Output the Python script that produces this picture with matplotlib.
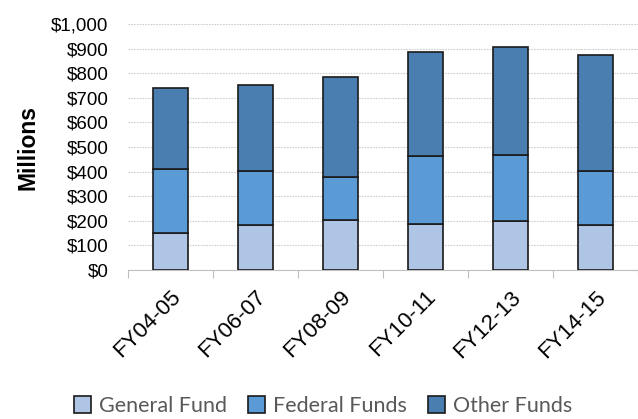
import matplotlib
matplotlib.use("Agg")
import matplotlib.pyplot as plt
import numpy as np

# values in $ millions
years = ["FY04-05", "FY06-07", "FY08-09", "FY10-11", "FY12-13", "FY14-15"]
general = [150, 182, 202, 188, 198, 181]
federal = [262, 222, 178, 276, 270, 223]
other = [326, 348, 405, 424, 440, 468]

colors = ["#aec5e5", "#5a9ad5", "#4a7db0"]
narrow = ["Liberation Sans Narrow", "Liberation Sans", "DejaVu Sans"]

fig = plt.figure(figsize=(6.38, 4.19), dpi=100)
ax = fig.add_axes([128 / 638, 1 - 270 / 419, 510 / 638, 246 / 419])

x = np.arange(len(years))
w = 0.41
bottom = np.zeros(len(years))
labels = ["General Fund", "Federal Funds", "Other Funds"]
for vals, c, lab in zip([general, federal, other], colors, labels):
    ax.bar(x, vals, w, bottom=bottom, color=c, edgecolor="#1a1a1a",
           linewidth=1.2, label=lab, zorder=3)
    bottom += np.array(vals)

ax.set_xlim(-0.5, len(years) - 0.5)
ax.set_ylim(0, 1000)
ax.set_yticks(range(0, 1001, 100))
ax.set_yticklabels(["${:,}".format(v) for v in range(0, 1001, 100)],
                   family=narrow, fontsize=13.5)
ax.yaxis.grid(True, color="#cfcfcf", linestyle=(0, (1.5, 1)), linewidth=0.8, zorder=0)
ax.tick_params(axis="y", length=0, pad=14)

# category separator ticks on the x axis
ax.set_xticks(np.arange(-0.5, len(years), 1), minor=True)
ax.set_xticks(x)
ax.set_xticklabels(years, rotation=45, ha="right", rotation_mode="anchor",
                   family=["Liberation Sans", "DejaVu Sans"], fontsize=16)
ax.tick_params(axis="x", which="major", length=0, pad=12)
ax.tick_params(axis="x", which="minor", length=6, color="#bfbfbf", width=0.8)

for s in ["top", "right", "left"]:
    ax.spines[s].set_visible(False)
ax.spines["bottom"].set_color("#bfbfbf")
ax.spines["bottom"].set_linewidth(0.8)

fig.text(28 / 638, 1 - 148 / 419, "Millions", rotation=90, ha="center",
         va="center", fontsize=16.5, fontweight="bold",
         family=["Liberation Sans", "DejaVu Sans"])

leg = fig.legend(loc="center", bbox_to_anchor=(323 / 638, 1 - 406 / 419), ncol=3,
                 frameon=False, handlelength=0.8, handleheight=0.8,
                 handletextpad=0.35, columnspacing=1.0,
                 prop={"family": ["Lato", "DejaVu Sans"], "size": 15.5})
for t in leg.get_texts():
    t.set_color("#595959")

fig.savefig("out.png", dpi=100)
